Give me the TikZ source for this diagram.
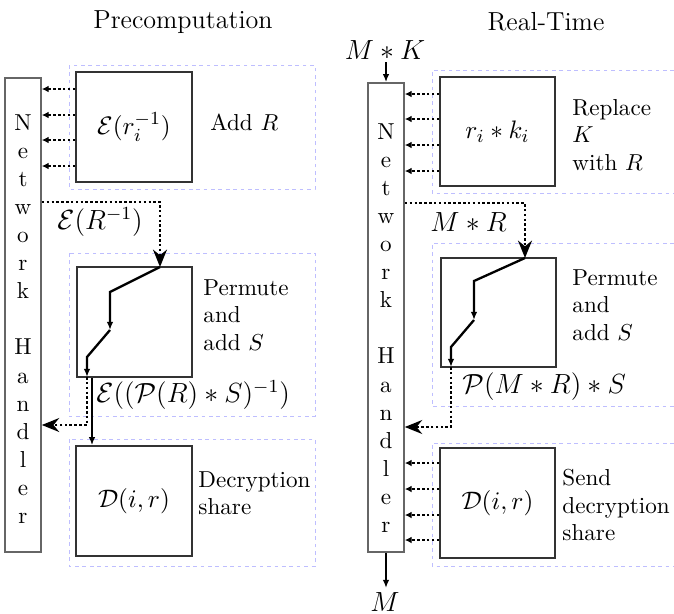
\documentclass[tikz,border=0pt]{standalone}
\usetikzlibrary{arrows.meta,fit}
\definecolor{lav}{RGB}{190,190,255}
\begin{document}
\begin{tikzpicture}[x=0.433pt,y=-0.433pt,
  dbox/.style={draw=lav, dash pattern=on 1.6pt off 1.6pt, line width=0.4pt},
  pbox/.style={draw=black!80, line width=0.7pt, inner sep=0pt},
  ptext/.style={inner sep=0pt, font=\fontsize{11}{13}\selectfont},
  nhbox/.style={draw=black!60, line width=0.7pt, inner sep=0pt},
  nhtext/.style={align=center, font=\fontsize{10}{12.15}\selectfont, inner sep=0pt},
  dots/.style={densely dotted, line width=1.1pt},
  smalltip/.style={-{Latex[length=3pt,width=3pt]}},
  bigtip/.style={-{Stealth[length=7.5pt,width=6pt]}},
  flow/.style={line width=1pt, -{Latex[length=3.5pt,width=2.8pt]}},
  title/.style={font=\fontsize{11.3}{13}\selectfont},
  lab/.style={font=\fontsize{12}{14}\selectfont, inner sep=0pt},
  desc/.style={align=left, font=\fontsize{10}{11.8}\selectfont, inner sep=0pt, anchor=west},
]
\useasboundingbox (0,0) rectangle (674,613);

% titles
\node[title] (t1) at (183,22) {Precomputation};
\node[title] (t2) at (546,22) {Real-Time};

% ================= LEFT =================
\draw[dbox] (69,65) rectangle (315,189);
\draw[dbox] (69,253) rectangle (315,416);
\draw[dbox] (69,439) rectangle (315,566);

\node[nhbox, fit={(5,78) (41,552)}] (nhL) {};
\node[nhtext] (nhLt) at (23,319) {N\\e\\t\\w\\o\\r\\k\\[12.15pt]H\\a\\n\\d\\l\\e\\r};

\node[pbox, fit={(76,72) (192,182)}] (lb1) {};
\node[ptext] (lb1t) at (lb1.center) {$\mathcal{E}(r_i^{-1})$};
\node[pbox, fit={(77,267) (192,377)}] (lb2) {};
\node[pbox, fit={(76,446) (192,556)}] (lb3) {};
\node[ptext] (lb3t) at (lb3.center) {$\mathcal{D}(i,r)$};

\node[desc] (ld1) at (210,122) {Add $R$};
\node[desc] (ld2) at (203,315) {Permute\\and\\add $S$};
\node[desc] (ld3) at (198,493) {Decryption\\share};

\foreach \yy in {89,115,140,166}
  \draw[dots,smalltip] (lb1.west |- 0,\yy) -- (nhL.east |- 0,\yy);

\coordinate (lp0) at (160,267);
\coordinate (lp1) at (110,292);
\coordinate (lp2) at (110,330);
\coordinate (lp3) at (87,357);
\coordinate (lp4) at (87,377);
\draw[dots,bigtip] (nhL.east |- 0,202) -| (lp0);
\draw[flow] (lp0) -- (lp1) -- (lp2);
\draw[flow] (lp2) -- (lp3) -- (lp4);
\draw[dots,bigtip] (lp4) |- (nhL.east |- 0,425);
\draw[flow] (lb2.south -| 92,0) -- (lb3.north -| 92,0);

\node[lab, anchor=west] (lE1) at (57,222) {$\mathcal{E}(R^{-1})$};
\node[lab, anchor=west] (lE2) at (96,395) {$\mathcal{E}((\mathcal{P}(R)*S)^{-1})$};

% ================= RIGHT =================
\draw[dbox] (674,70) -- (432,70) -- (432,193) -- (674,193);
\draw[dbox] (674,243) -- (432,243) -- (432,406) -- (674,406);
\draw[dbox] (674,443) -- (432,443) -- (432,566) -- (674,566);

\node[nhbox, fit={(368,83) (404,552)}] (nhR) {};
\node[nhtext] (nhRt) at (386,328) {N\\e\\t\\w\\o\\r\\k\\[12.15pt]H\\a\\n\\d\\l\\e\\r};

\node[pbox, fit={(440,77) (555,186)}] (rb1) {};
\node[ptext] (rb1t) at (rb1.center) {$r_i*k_i$};
\node[pbox, fit={(441,258) (556,367)}] (rb2) {};
\node[pbox, fit={(440,448) (555,558)}] (rb3) {};
\node[ptext] (rb3t) at (rb3.center) {$\mathcal{D}(i,r)$};

\node[desc] (rd1) at (572,135) {Replace\\$K$\\with $R$};
\node[desc] (rd2) at (572,305) {Permute\\and\\add $S$};
\node[desc] (rd3) at (562,505) {Send\\decryption\\share};

\foreach \yy in {94,119,145,171}
  \draw[dots,smalltip] (rb1.west |- 0,\yy) -- (nhR.east |- 0,\yy);
\foreach \yy in {463,489,515,540}
  \draw[dots,smalltip] (rb3.west |- 0,\yy) -- (nhR.east |- 0,\yy);

\coordinate (rp0) at (525,258);
\coordinate (rp1) at (474,281);
\coordinate (rp2) at (474,320);
\coordinate (rp3) at (451,347);
\coordinate (rp4) at (451,367);
\draw[dots,bigtip] (nhR.east |- 0,203) -| (rp0);
\draw[flow] (rp0) -- (rp1) -- (rp2);
\draw[flow] (rp2) -- (rp3) -- (rp4);
\draw[dots,bigtip] (rp4) |- (nhR.east |- 0,427);

\node[lab, anchor=west, font=\fontsize{12.8}{14}\selectfont] (rMR) at (430,222) {$M*R$};
\node[lab, anchor=west] (rPS) at (462,387) {$\mathcal{P}(M*R)*S$};

\node[lab] (rMK) at (385,50) {$M*K$};
\node[lab, anchor=base] (rM) at (385,611) {$M$};
\draw[flow] (nhR.north |- 0,62) -- (nhR.north);
\draw[flow] (nhR.south) -- (nhR.south |- 0,588);
\end{tikzpicture}
\end{document}
